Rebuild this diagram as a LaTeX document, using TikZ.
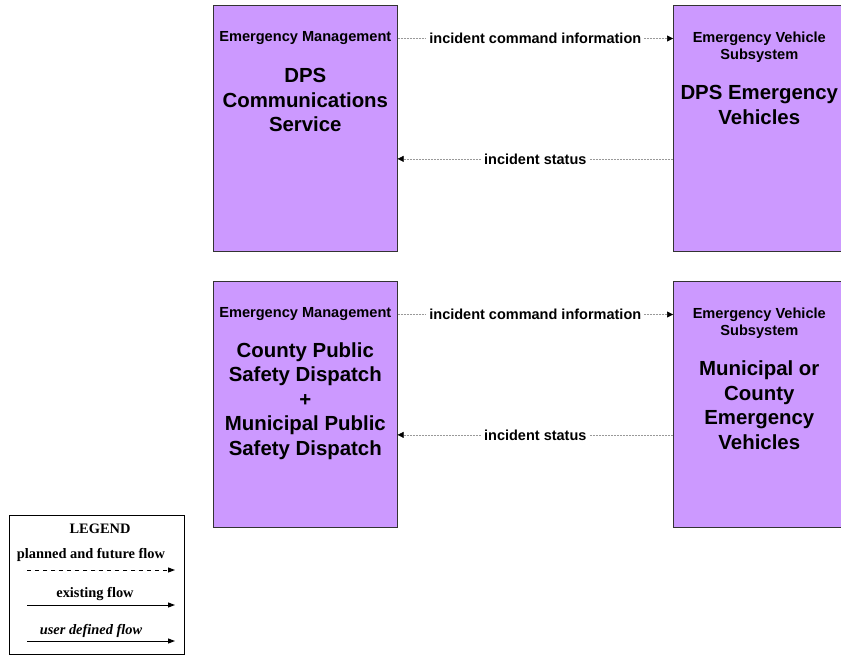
\documentclass[tikz,border=0pt]{standalone}
\usepackage{xcolor}
\usepackage{fontspec}
\setmainfont{Liberation Sans}
\newfontfamily\legendfont{Liberation Serif}
\usetikzlibrary{arrows.meta, positioning, calc}

\definecolor{sysviolet}{HTML}{CC99FF}

\begin{document}
\begin{tikzpicture}[
    x=1pt, y=-1pt,
    sysbox/.style={rectangle, draw=black!80, fill=sysviolet, line width=0.6pt, minimum height=246pt, inner sep=0pt, anchor=north west},
    hdr/.style={align=center, inner sep=0pt, font=\bfseries\fontsize{14.6}{17}\selectfont},
    ttl/.style={align=center, inner sep=0pt, font=\bfseries\fontsize{20.4}{24.5}\selectfont},
    flow/.style={-{Triangle[length=6pt, width=6pt, color=black]}, draw=gray!80, line width=0.5pt, dash pattern=on 2pt off 1pt},
    flowlbl/.style={fill=white, inner sep=3pt, text=black, font=\bfseries\fontsize{14.5}{16}\selectfont},
    legtxt/.style={inner sep=0pt, font=\legendfont\bfseries\fontsize{14.4}{16}\selectfont},
    legarrow/.style={-{Triangle[length=7pt, width=5pt]}, line width=1pt},
]
\useasboundingbox (0,0) rectangle (841,655);

% top pair
\node[sysbox, minimum width=184pt] (dps) at (213,5) {};
\node[sysbox, minimum width=172pt] (dpsveh) at (673,5) {};
\node[hdr] (dpshdr) at ($(dps.north)+(0,33.5)$) {Emergency Management};
\node[ttl] (dpsttl) at ($(dps.north)+(0,95)$) {DPS\\Communications\\Service};
\node[hdr] (dpsvehhdr) at ($(dpsveh.north)+(0,42)$) {Emergency Vehicle\\Subsystem};
\node[ttl] (dpsvehttl) at ($(dpsveh.north)+(0,100)$) {DPS Emergency\\Vehicles};

\coordinate (dpsst) at ($(dps.north east)!0.624!(dps.south east)$);
\draw[flow] (dps.east |- dpshdr) -- node[flowlbl] {incident command information} (dpsveh.west |- dpshdr);
\draw[flow] (dpsveh.west |- dpsst) -- node[flowlbl] {incident status} (dpsst);

% bottom pair
\node[sysbox, minimum width=184pt] (disp) at (213,281) {};
\node[sysbox, minimum width=172pt] (munveh) at (673,281) {};
\node[hdr] (disphdr) at ($(disp.north)+(0,33.5)$) {Emergency Management};
\node[ttl] (dispttl) at ($(disp.north)+(0,120)$) {County Public\\Safety Dispatch\\+\\Municipal Public\\Safety Dispatch};
\node[hdr] (munvehhdr) at ($(munveh.north)+(0,42)$) {Emergency Vehicle\\Subsystem};
\node[ttl] (munvehttl) at ($(munveh.north)+(0,124)$) {Municipal or\\County\\Emergency\\Vehicles};

\coordinate (dispst) at ($(disp.north east)!0.624!(disp.south east)$);
\draw[flow] (disp.east |- disphdr) -- node[flowlbl] {incident command information} (munveh.west |- disphdr);
\draw[flow] (munveh.west |- dispst) -- node[flowlbl] {incident status} (dispst);

% legend
\node[draw, line width=0.8pt, minimum width=175pt, minimum height=139pt, inner sep=0pt, anchor=north west] (legend) at (9,515) {};
\node[legtxt] (legttl) at (100,529) {LEGEND};
\node[legtxt] (legplan) at (91,555) {planned and future flow};
\node[legtxt] (legexist) at (95,594) {existing flow};
\node[legtxt, font=\legendfont\bfseries\itshape\fontsize{14.4}{16}\selectfont] (leguser) at (91,631) {user defined flow};
\coordinate (planA) at (27,570);
\coordinate (planB) at (175,570);
\coordinate (existA) at (27,605);
\coordinate (existB) at (175,605);
\coordinate (userA) at (27,641);
\coordinate (userB) at (175,641);
\draw[legarrow, dash pattern=on 4pt off 4pt] (planA) -- (planB);
\draw[legarrow] (existA) -- (existB);
\draw[legarrow] (userA) -- (userB);
\end{tikzpicture}
\end{document}
